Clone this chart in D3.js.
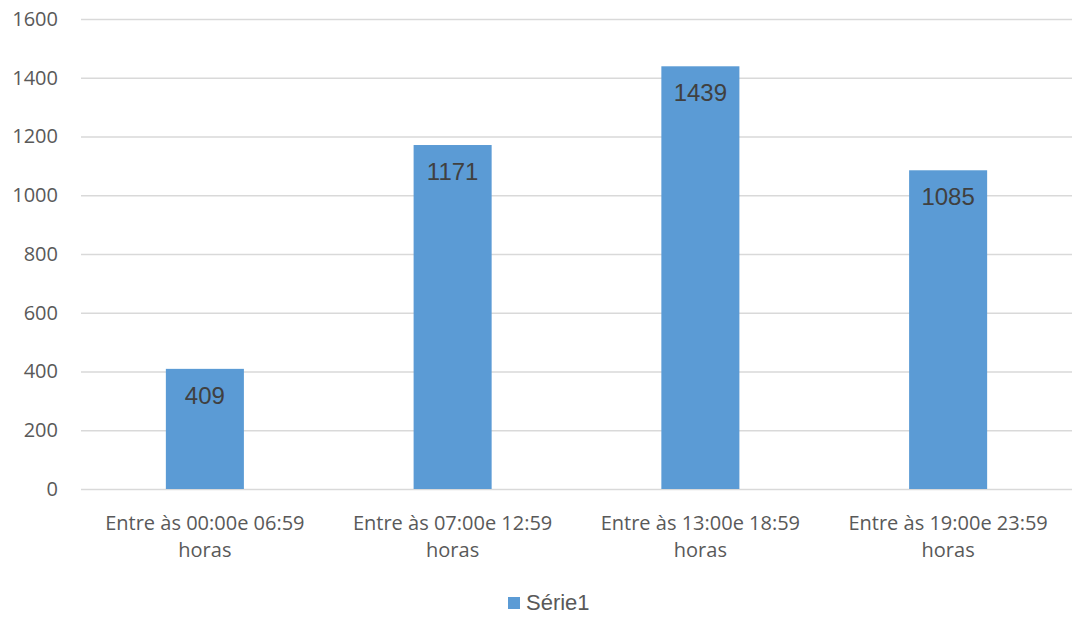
<!DOCTYPE html>
<html>
<head>
<meta charset="utf-8">
<script src="https://cdn.jsdelivr.net/npm/d3@7"></script>
<style>
  body { margin: 0; background: #fff; }
  svg { display: block; }
</style>
</head>
<body>
<div id="chart"></div>
<script>
let categorias = ['Entre às 00:00e 06:59 horas', 'Entre às 07:00e 12:59 horas', 'Entre às 13:00e 18:59 horas', 'Entre às 19:00e 23:59 horas'];
let valores = [409, 1171, 1439, 1085];
let ticksY = [0, 200, 400, 600, 800, 1000, 1200, 1400, 1600];
let serie = 'Série1';

let w = 1072;
let h = 619;
let plotL = 81, plotR = 1072, plotT = 19, plotB = 489;

let xScale = d3.scaleBand()
               .domain(categorias)
               .range([plotL, plotR])
               .paddingInner(0.685)
               .paddingOuter(0.3425);
let yScale = d3.scaleLinear()
               .domain([0, 1600])
               .range([plotB, plotT]);

let svg = d3.select('#chart')
            .append('svg')
            .attr('width', w)
            .attr('height', h);

// grid
svg.append('g')
   .selectAll('line')
   .data(ticksY)
   .enter()
   .append('line')
   .attr('x1', plotL)
   .attr('x2', plotR)
   .attr('y1', (d) => yScale(d) + 0.5)
   .attr('y2', (d) => yScale(d) + 0.5)
   .attr('stroke', '#d9d9d9')
   .attr('stroke-width', 1.3);

let yAxis = d3.axisLeft(yScale).tickValues(ticksY).tickFormat(d3.format('d')).tickSize(0).tickPadding(0);
let gy = svg.append('g')
            .attr('transform', 'translate(58, 0)')
            .call(yAxis);
gy.select('.domain').remove();
gy.selectAll('text')
  .style('font-family', '"Open Sans", sans-serif')
  .style('font-size', '20px')
  .attr('fill', '#595959');

// bars
svg.selectAll('rect.bar')
   .data(valores)
   .enter()
   .append('rect')
   .attr('class', 'bar')
   .attr('x', (d, i) => xScale(categorias[i]))
   .attr('y', (d) => yScale(d))
   .attr('width', xScale.bandwidth())
   .attr('height', (d) => plotB - yScale(d))
   .attr('fill', '#5b9bd5');

// data labels
svg.selectAll('text.rotulo')
   .data(valores)
   .enter()
   .append('text')
   .attr('class', 'rotulo')
   .attr('x', (d, i) => xScale(categorias[i]) + xScale.bandwidth() / 2)
   .attr('y', (d) => yScale(d) + 35)
   .attr('text-anchor', 'middle')
   .style('font-family', '"Liberation Sans", Arial, sans-serif')
   .style('font-size', '24px')
   .attr('fill', '#404040')
   .text((d) => d);

// category labels
let cat = svg.append('g');
categorias.forEach((c, i) => {
  let cx = xScale(c) + xScale.bandwidth() / 2;
  let partes = [c.replace(' horas', ''), 'horas'];
  let t = cat.append('text')
             .attr('text-anchor', 'middle')
             .style('font-family', '"Open Sans", sans-serif')
             .style('font-size', '20px')
             .attr('fill', '#595959');
  partes.forEach((p, j) => {
    t.append('tspan')
     .attr('x', cx)
     .attr('y', 530 + j * 27)
     .text(p);
  });
});

// legend
let legend = svg.append('g');
legend.append('rect')
      .attr('x', 508)
      .attr('y', 597)
      .attr('width', 12)
      .attr('height', 12)
      .attr('fill', '#5b9bd5');
legend.append('text')
      .attr('x', 526)
      .attr('y', 610)
      .style('font-family', '"Liberation Sans", Arial, sans-serif')
      .style('font-size', '22px')
      .attr('fill', '#595959')
      .text(serie);
</script>
</body>
</html>
